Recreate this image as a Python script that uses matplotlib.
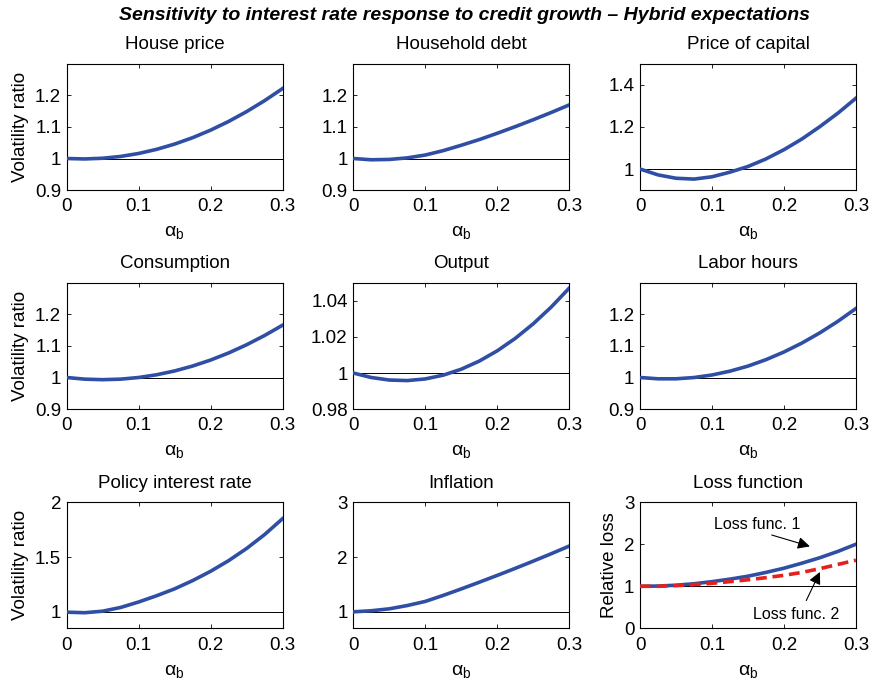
import matplotlib
matplotlib.use('Agg')
import matplotlib.pyplot as plt

plt.rcParams['font.family'] = ['Liberation Sans', 'DejaVu Sans']
plt.rcParams['mathtext.fontset'] = 'custom'
plt.rcParams['mathtext.rm'] = 'Liberation Sans'

# alpha_b grid
alpha_b = [0.0, 0.025, 0.05, 0.075, 0.1, 0.125, 0.15, 0.175, 0.2, 0.225, 0.25, 0.275, 0.3]

# volatility ratios
house_price = [1.000, 0.9986, 1.0008, 1.0066, 1.016, 1.0291, 1.0458, 1.0661, 1.090, 1.1176, 1.1488, 1.1836, 1.222]
household_debt = [1.000, 0.996, 0.997, 1.002, 1.011, 1.025, 1.042, 1.060, 1.080, 1.101, 1.123, 1.146, 1.170]
price_capital = [1.000, 0.972, 0.956, 0.952, 0.963, 0.985, 1.012, 1.048, 1.092, 1.143, 1.202, 1.266, 1.337]
consumption = [1.000, 0.9948, 0.9931, 0.9948, 1.000, 1.0087, 1.0208, 1.0364, 1.0554, 1.0779, 1.1039, 1.1333, 1.166]
output = [1.000, 0.9975, 0.9961, 0.9958, 0.9967, 0.9988, 1.0021, 1.0066, 1.0123, 1.0192, 1.0273, 1.0366, 1.0471]
labor_hours = [1.000, 0.9959, 0.9959, 0.9999, 1.008, 1.0202, 1.0362, 1.0566, 1.081, 1.1094, 1.1419, 1.1784, 1.219]
policy_rate = [0.997, 0.992, 1.006, 1.040, 1.090, 1.147, 1.210, 1.285, 1.370, 1.467, 1.578, 1.705, 1.850]
inflation = [1.000, 1.020, 1.055, 1.115, 1.190, 1.300, 1.418, 1.540, 1.665, 1.793, 1.925, 2.060, 2.200]
loss_1 = [1.000, 1.005, 1.025, 1.060, 1.110, 1.170, 1.240, 1.330, 1.430, 1.550, 1.680, 1.830, 2.000]
loss_2 = [1.000, 1.000, 1.015, 1.040, 1.070, 1.110, 1.155, 1.205, 1.260, 1.330, 1.420, 1.520, 1.620]

titles = ['House price', 'Household debt', 'Price of capital',
          'Consumption', 'Output', 'Labor hours',
          'Policy interest rate', 'Inflation', 'Loss function']
series = [house_price, household_debt, price_capital,
          consumption, output, labor_hours,
          policy_rate, inflation, loss_1]
ylims = [(0.9, 1.3), (0.9, 1.3), (0.9, 1.5),
         (0.9, 1.3), (0.98, 1.05), (0.9, 1.3),
         (0.85, 2.0), (0.7, 3.0), (0.0, 3.0)]
yticks = [[0.9, 1, 1.1, 1.2], [0.9, 1, 1.1, 1.2], [1, 1.2, 1.4],
          [0.9, 1, 1.1, 1.2], [0.98, 1, 1.02, 1.04], [0.9, 1, 1.1, 1.2],
          [1, 1.5, 2], [1, 2, 3], [0, 1, 2, 3]]
ytick_labels = [['0.9', '1', '1.1', '1.2'], ['0.9', '1', '1.1', '1.2'], ['1', '1.2', '1.4'],
                ['0.9', '1', '1.1', '1.2'], ['0.98', '1', '1.02', '1.04'], ['0.9', '1', '1.1', '1.2'],
                ['1', '1.5', '2'], ['1', '2', '3'], ['0', '1', '2', '3']]
xticks = [0, 0.1, 0.2, 0.3]
xtick_labels = ['0', '0.1', '0.2', '0.3']

blue = '#2f4fa5'
red = '#e8201c'

fig = plt.figure(figsize=(8.74, 6.85), dpi=100)

lefts = [0.0763, 0.4042, 0.7323]
bottoms = [0.7226, 0.4029, 0.0828]
w, h = 0.247, 0.184

arrow = dict(arrowstyle='-|>', color='k', lw=0.8, mutation_scale=18,
             shrinkA=0, shrinkB=0)

for i in range(9):
    r, c = i // 3, i % 3
    ax = fig.add_axes([lefts[c], bottoms[r], w, h])
    ax.axhline(1, color='k', lw=0.7, zorder=1)
    ax.plot(alpha_b, series[i], color=blue, lw=2.6, zorder=3)
    if i == 8:
        ax.plot(alpha_b, loss_2, color=red, lw=2.6, ls=(0, (3, 1.6)), zorder=4)
        ax.text(0.163, 2.48, 'Loss func. 1', fontsize=11.5, ha='center', va='center')
        ax.annotate('', xy=(0.236, 1.95), xytext=(0.183, 2.22), arrowprops=arrow)
        ax.text(0.2176, 0.33, 'Loss func. 2', fontsize=11.5, ha='center', va='center')
        ax.annotate('', xy=(0.25, 1.34), xytext=(0.231, 0.66), arrowprops=arrow)
        ax.set_ylabel('Relative loss', fontsize=13.5, labelpad=4)
    elif c == 0:
        ax.set_ylabel('Volatility ratio', fontsize=13.5, labelpad=4)
    ax.set_xlim(0, 0.3)
    ax.set_ylim(*ylims[i])
    ax.set_xticks(xticks)
    ax.set_xticklabels(xtick_labels)
    ax.set_yticks(yticks[i])
    ax.set_yticklabels(ytick_labels[i])
    ax.tick_params(direction='in', top=True, right=True, length=3, width=0.6,
                   labelsize=13.5)
    ax.tick_params(axis='x', pad=6)
    ax.tick_params(axis='y', pad=4)
    ax.set_title(titles[i], fontsize=13.5, pad=10.5)
    ax.set_xlabel('α$_{\\mathrm{b}}$', fontsize=14, labelpad=7)
    for s in ax.spines.values():
        s.set_linewidth(0.8)

fig.text(0.532, 0.978, 'Sensitivity to interest rate response to credit growth \u2013 Hybrid expectations',
         ha='center', va='center', fontsize=14, fontweight='bold', style='italic')

fig.savefig('out.png', dpi=100)
